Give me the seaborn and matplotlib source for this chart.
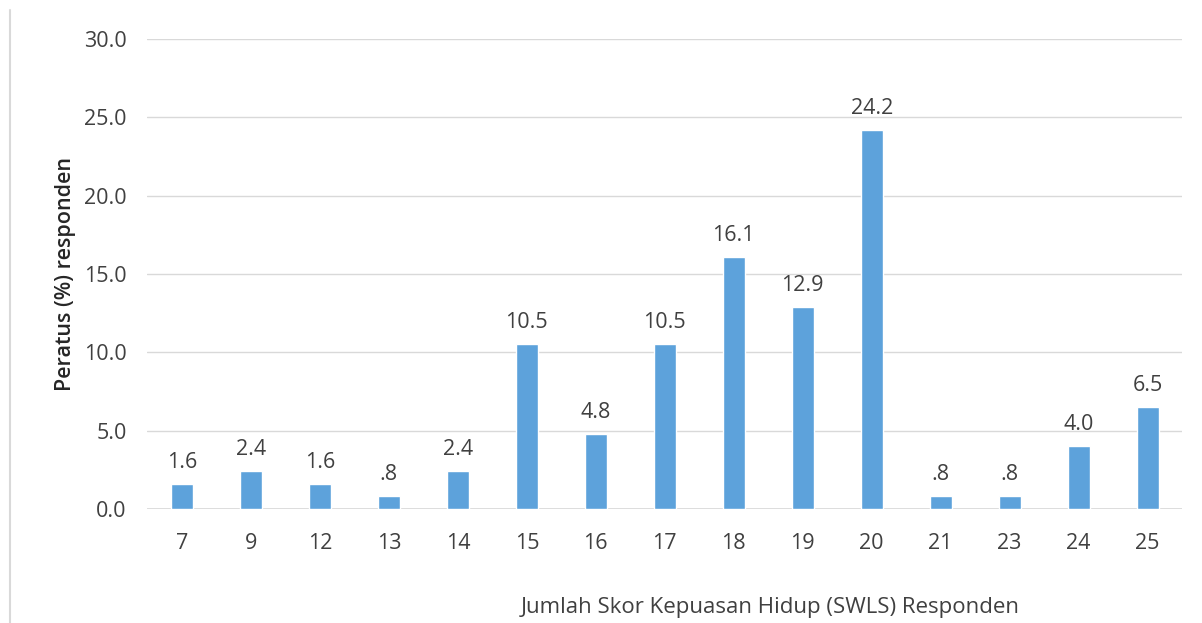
import matplotlib
matplotlib.use("Agg")
import matplotlib.pyplot as plt
import seaborn as sns
import pandas as pd
from matplotlib.lines import Line2D

scores = ["7", "9", "12", "13", "14", "15", "16", "17", "18", "19", "20", "21", "23", "24", "25"]
percent = [1.6, 2.4, 1.6, 0.8, 2.4, 10.5, 4.8, 10.5, 16.1, 12.9, 24.2, 0.8, 0.8, 4.0, 6.5]
labels = ["1.6", "2.4", "1.6", ".8", "2.4", "10.5", "4.8", "10.5", "16.1", "12.9", "24.2", ".8", ".8", "4.0", "6.5"]
yticks = [0, 5, 10, 15, 20, 25, 30]

sns.set_theme(style="white")
plt.rcParams['font.family'] = ['Open Sans', 'DejaVu Sans']

df = pd.DataFrame({"score": scores, "pct": percent})

fig = plt.figure(figsize=(12.02, 6.23), dpi=100)
ax = fig.add_axes([0.1227, 0.183, 0.8607, 0.7544])

sns.barplot(data=df, x="score", y="pct", order=scores, color="#5DA2DB",
            width=0.32, saturation=1, ax=ax)

fs = 15.5
ax.set_ylim(0, 30)
ax.set_yticks(yticks)
ax.set_yticklabels([f"{v:.1f}" for v in yticks], fontsize=fs, color="#404040")
ax.grid(axis="y", color="#D9D9D9", linewidth=1)
ax.set_axisbelow(True)
for s in ax.spines.values():
    s.set_visible(False)
ax.axhline(0, color="#D9D9D9", linewidth=1.2, zorder=0)
ax.tick_params(axis="both", length=0)
ax.tick_params(axis="y", pad=15)
ax.tick_params(axis="x", pad=17, labelsize=fs, labelcolor="#404040")

for i, (v, t) in enumerate(zip(percent, labels)):
    ax.annotate(t, (i, v), xytext=(0, 8), textcoords="offset points",
                ha="center", va="bottom", fontsize=fs, color="#404040")

ax.set_xlabel("")
ax.set_ylabel("Peratus (%) responden", fontsize=fs, color="#262626",
              fontweight="semibold", labelpad=6)
fig.text(770 / 1202, 1 - 608 / 623, "Jumlah Skor Kepuasan Hidup (SWLS) Responden",
         ha="center", va="center", fontsize=16, color="#404040")

fig.add_artist(Line2D([10 / 1202, 10 / 1202], [0, 1 - 10 / 623],
                      transform=fig.transFigure, color="#D9D9D9", linewidth=1.5))

fig.savefig("out.png", dpi=100)
